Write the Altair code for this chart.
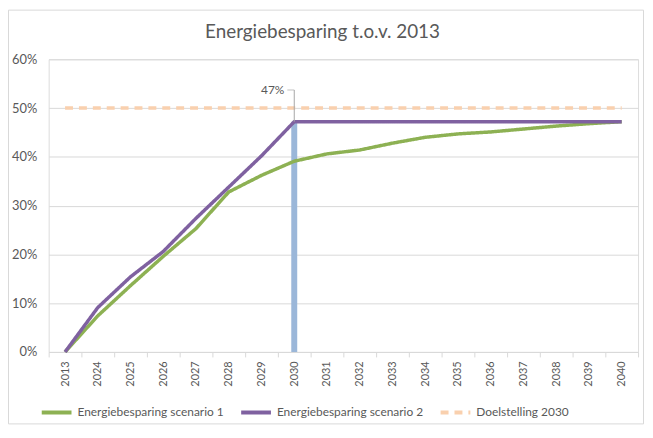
import altair as alt
import pandas as pd

years = ["2013", "2024", "2025", "2026", "2027", "2028", "2029", "2030", "2031",
         "2032", "2033", "2034", "2035", "2036", "2037", "2038", "2039", "2040"]
scenario1 = [0.0, 0.074, 0.136, 0.196, 0.253, 0.328, 0.362, 0.391, 0.406,
             0.414, 0.428, 0.440, 0.447, 0.451, 0.457, 0.463, 0.468, 0.472]
scenario2 = [0.0, 0.091, 0.154, 0.206, 0.274, 0.338, 0.402, 0.472, 0.472,
             0.472, 0.472, 0.472, 0.472, 0.472, 0.472, 0.472, 0.472, 0.472]
target = [0.50] * len(years)
series_names = ["Energiebesparing scenario 1", "Energiebesparing scenario 2", "Doelstelling 2030"]
series_colors = ["#8DB153", "#7F61A0", "#F9D0AE"]
bar_year = ["2030"]
bar_value = [0.472]
label_text = ["47%"]
label_y = [0.537]

rows = []
for name, vals in zip(series_names, [scenario1, scenario2, target]):
    for y, v in zip(years, vals):
        rows.append({"jaar": y, "waarde": v, "reeks": name})
lines_df = pd.DataFrame(rows)
bar_df = pd.DataFrame({"jaar": bar_year, "waarde": bar_value})
lab_df = pd.DataFrame({"jaar": bar_year, "waarde": label_y, "tekst": label_text, "top": bar_value})

FONT = "Lato"
GREY = "#595959"

xscale = alt.Scale(type="band", domain=years, paddingInner=0, paddingOuter=0)
yscale = alt.Scale(domain=[0, 0.6])

x_enc = alt.X("jaar:N", scale=xscale, sort=years,
              axis=alt.Axis(title=None, labelAngle=-90, labelFontSize=11, labelColor=GREY,
                            labelFont=FONT, tickBand="extent", tickColor="#D9D9D9",
                            domainColor="#D9D9D9", tickSize=5, labelPadding=4,
                            labelBaseline="middle", labelAlign="right"))
y_enc = alt.Y("waarde:Q", scale=yscale,
              axis=alt.Axis(title=None, format=".0%", values=[0, 0.1, 0.2, 0.3, 0.4, 0.5, 0.6],
                            labelFontSize=13, labelColor=GREY, labelFont=FONT, domain=False,
                            ticks=False, gridColor="#D9D9D9", labelPadding=12))

border = alt.Chart(bar_df).mark_rect(fill=None, stroke="#D9D9D9", strokeWidth=1).encode(
    x=alt.value(-40.5), x2=alt.value(599.5), y=alt.value(-49.5), y2=alt.value(367.5))

bar = alt.Chart(bar_df).mark_bar(size=6, color="#9BB7D9").encode(x=x_enc, y=y_enc)

lines = alt.Chart(lines_df).mark_line(strokeWidth=3.5, strokeCap="butt").encode(
    x=alt.X("jaar:N", scale=xscale, sort=years),
    y=alt.Y("waarde:Q", scale=yscale),
    color=alt.Color("reeks:N", scale=alt.Scale(domain=series_names, range=series_colors),
                    sort=series_names,
                    legend=alt.Legend(title=None, orient="none", legendX=-9, legendY=339,
                                      direction="horizontal", symbolType="stroke",
                                      symbolStrokeWidth=4, symbolSize=900,
                                      labelFont=FONT, labelFontSize=12, labelColor=GREY,
                                      labelLimit=300, columnPadding=9, labelOffset=4)),
    strokeDash=alt.StrokeDash("reeks:N",
                              scale=alt.Scale(domain=series_names, range=[[1, 0], [1, 0], [8, 6]]),
                              sort=series_names, legend=None),
    order=alt.Order("reeks:N"),
)

leader_v = alt.Chart(lab_df).mark_rule(color="#A6A6A6", strokeWidth=1).encode(
    x=alt.X("jaar:N", scale=xscale, sort=years),
    y=alt.Y("waarde:Q", scale=yscale),
    y2="top:Q",
)
leader_h = alt.Chart(lab_df).mark_tick(color="#A6A6A6", thickness=1, size=7, xOffset=-3.5).encode(
    x=alt.X("jaar:N", scale=xscale, sort=years),
    y=alt.Y("waarde:Q", scale=yscale),
)
label = alt.Chart(lab_df).mark_text(align="right", baseline="middle", dx=-10, font=FONT,
                                    fontSize=12, color=GREY).encode(
    x=alt.X("jaar:N", scale=xscale, sort=years),
    y=alt.Y("waarde:Q", scale=yscale),
    text="tekst:N",
)

chart = alt.layer(border, bar, lines, leader_v, leader_h, label).properties(
    width=594, height=295,
    title=alt.TitleParams("Energiebesparing  t.o.v. 2013", font=FONT, fontSize=19,
                          fontWeight="normal", color=GREY, offset=-33, dx=-21, anchor="middle"),
    autosize=alt.AutoSizeParams(type="none"),
    padding={"left": 41, "top": 50, "right": 7, "bottom": 77},
).configure_view(stroke=None).configure(background="white")

chart.save("out.html", embed_options={"renderer": "svg", "actions": False})
